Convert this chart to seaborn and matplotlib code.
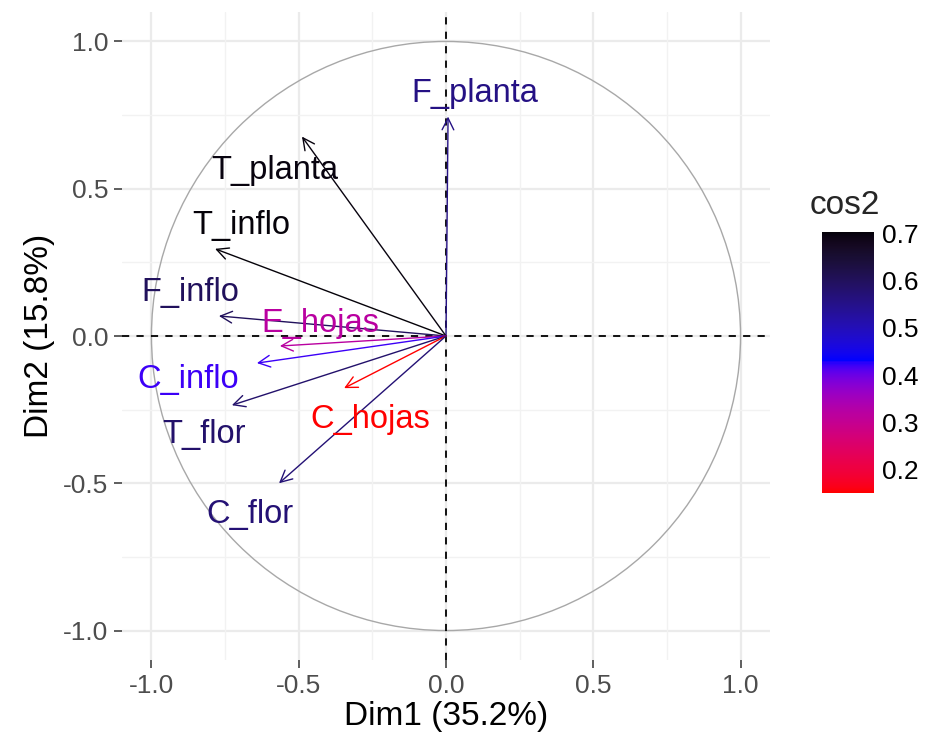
import numpy as np
import pandas as pd
import matplotlib
matplotlib.use("Agg")
import matplotlib.pyplot as plt
import seaborn as sns
from matplotlib.colors import ListedColormap, Normalize
from matplotlib.patches import Circle
from matplotlib.cm import ScalarMappable

# --- data: variable coordinates on Dim1 / Dim2 ---
variables = ["F_planta", "T_planta", "T_inflo", "F_inflo", "E_hojas",
             "C_inflo", "T_flor", "C_hojas", "C_flor"]
dim1 = [0.007, -0.489, -0.784, -0.771, -0.564, -0.642, -0.727, -0.346, -0.567]
dim2 = [0.745, 0.677, 0.296, 0.068, -0.034, -0.092, -0.235, -0.177, -0.500]
# repelled label positions
label_x = [0.098, -0.581, -0.696, -0.869, -0.428, -0.876, -0.822, -0.258, -0.666]
label_y = [0.823, 0.561, 0.374, 0.146, 0.041, -0.146, -0.333, -0.282, -0.605]
cbar_ticks = [0.2, 0.3, 0.4, 0.5, 0.6, 0.7]
cos2_mid = 0.43

df = pd.DataFrame({"var": variables, "Dim1": dim1, "Dim2": dim2,
                   "lx": label_x, "ly": label_y})
df["cos2"] = df["Dim1"] ** 2 + df["Dim2"] ** 2


# gradient red -> blue -> black interpolated in Lab space (like ggplot)
def srgb_to_lab(rgb):
    c = np.asarray(rgb, float)
    c = np.where(c > 0.04045, ((c + 0.055) / 1.055) ** 2.4, c / 12.92)
    m = np.array([[0.4124, 0.3576, 0.1805], [0.2126, 0.7152, 0.0722], [0.0193, 0.1192, 0.9505]])
    xyz = m @ c / np.array([0.95047, 1.0, 1.08883])
    f = np.where(xyz > 0.008856, np.cbrt(xyz), 7.787 * xyz + 16 / 116)
    return np.array([116 * f[1] - 16, 500 * (f[0] - f[1]), 200 * (f[1] - f[2])])


def lab_to_srgb(lab):
    L, a, b = lab
    fy = (L + 16) / 116
    f = np.array([fy + a / 500, fy, fy - b / 200])
    xyz = np.where(f > 0.2069, f ** 3, (f - 16 / 116) / 7.787) * np.array([0.95047, 1.0, 1.08883])
    m = np.array([[3.2406, -1.5372, -0.4986], [-0.9689, 1.8758, 0.0415], [0.0557, -0.2040, 1.0570]])
    c = m @ xyz
    c = np.where(c > 0.0031308, 1.055 * np.clip(c, 0, None) ** (1 / 2.4) - 0.055, 12.92 * c)
    return np.clip(c, 0, 1)


vmin, vmax = df["cos2"].min(), df["cos2"].max()
half = max(cos2_mid - vmin, vmax - cos2_mid)
lab_low, lab_mid, lab_high = (srgb_to_lab(c) for c in [(1, 0, 0), (0, 0, 1), (0, 0, 0)])
colors = []
for v in np.linspace(vmin, vmax, 256):
    t = 0.5 + (v - cos2_mid) / (2 * half)
    if t <= 0.5:
        lab = lab_low + (lab_mid - lab_low) * (t / 0.5)
    else:
        lab = lab_mid + (lab_high - lab_mid) * ((t - 0.5) / 0.5)
    colors.append(lab_to_srgb(lab))
cmap = ListedColormap(colors)
norm = Normalize(vmin=vmin, vmax=vmax)

sns.set_theme(style="white")
plt.rcParams["font.family"] = ["Liberation Sans", "DejaVu Sans"]

fig = plt.figure(figsize=(9.32, 7.48), dpi=100)
ax = fig.add_axes([122 / 932, 1 - 660 / 748, 648 / 932, 648 / 748])

# grid
for v in [-1.0, -0.5, 0.0, 0.5, 1.0]:
    ax.axvline(v, color="#ebebeb", lw=1.6, zorder=0)
    ax.axhline(v, color="#ebebeb", lw=1.6, zorder=0)
for v in [-0.75, -0.25, 0.25, 0.75]:
    ax.axvline(v, color="#f2f2f2", lw=1.0, zorder=0)
    ax.axhline(v, color="#f2f2f2", lw=1.0, zorder=0)

ax.add_patch(Circle((0, 0), 1.0, fill=False, edgecolor="#a8a8a8", lw=1.0, zorder=1))
ax.axhline(0, color="black", ls=(0, (4, 4)), lw=1.3, zorder=2)
ax.axvline(0, color="black", ls=(0, (4, 4)), lw=1.3, zorder=2)

for _, r in df.iterrows():
    c = cmap(norm(r["cos2"]))
    ax.annotate("", xy=(r["Dim1"], r["Dim2"]), xytext=(0, 0),
                arrowprops=dict(arrowstyle="->,head_length=0.6,head_width=0.3",
                                color=c, lw=1.0, shrinkA=0, shrinkB=0,
                                mutation_scale=14), zorder=3)
    ax.text(r["lx"], r["ly"], r["var"], color=c, fontsize=23.5,
            ha="center", va="center", zorder=4)

ax.set_xlim(-1.1, 1.1)
ax.set_ylim(-1.1, 1.1)
ax.set_xticks([-1.0, -0.5, 0.0, 0.5, 1.0])
ax.set_yticks([-1.0, -0.5, 0.0, 0.5, 1.0])
ax.set_xticklabels(["-1.0", "-0.5", "0.0", "0.5", "1.0"])
ax.set_yticklabels(["-1.0", "-0.5", "0.0", "0.5", "1.0"])
ax.tick_params(axis="both", labelsize=19, labelcolor="#4d4d4d", color="#333333",
               length=6, width=1.1, direction="out", bottom=True, left=True, pad=4)
ax.set_xlabel("Dim1 (35.2%)", fontsize=24, color="black", labelpad=2)
ax.set_ylabel("Dim2 (15.8%)", fontsize=24, color="black", labelpad=6)
sns.despine(ax=ax, left=True, bottom=True, top=True, right=True)

# colour bar legend
cax = fig.add_axes([822 / 932, 1 - 493 / 748, 52 / 932, 261 / 748])
cb = fig.colorbar(ScalarMappable(norm=norm, cmap=cmap), cax=cax, ticks=cbar_ticks)
cb.outline.set_visible(False)
cax.tick_params(axis="y", direction="in", color="white", length=10, width=1.2,
                left=True, right=True, labelsize=19, labelcolor="black", pad=6)
cax.set_yticklabels([f"{t:.1f}" for t in cbar_ticks])
fig.text(810 / 932, 1 - 205 / 748, "cos2", fontsize=24, ha="left", va="center")

fig.savefig("out.png", dpi=100, facecolor="white")
